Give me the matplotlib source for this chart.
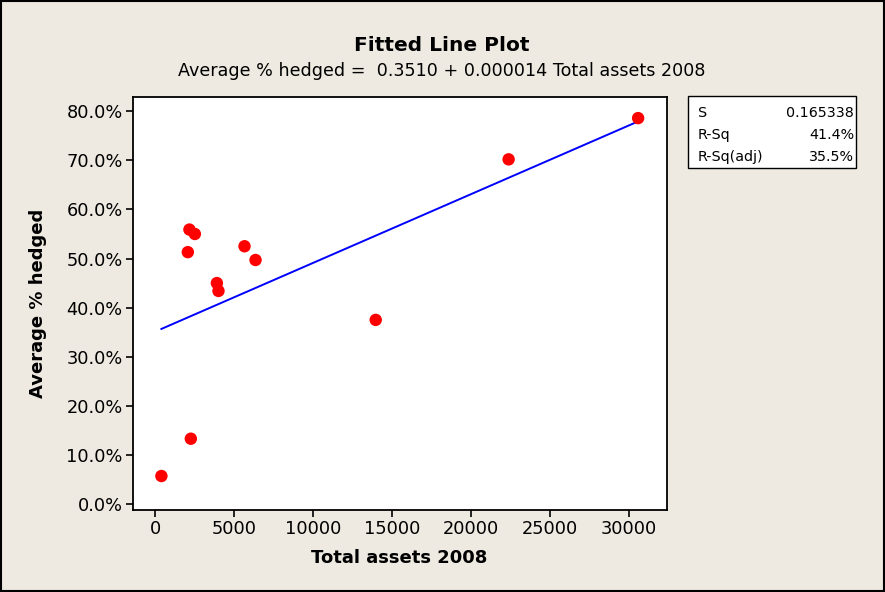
import numpy as np
import matplotlib
matplotlib.use('Agg')
from matplotlib import pyplot as plt
from matplotlib.ticker import FuncFormatter
from matplotlib.patches import Rectangle

# data
total_assets = [400, 2074, 2175, 2264, 2518, 3913, 4015, 5664, 6361, 13973, 22389, 30590]
avg_hedged = [0.057, 0.513, 0.559, 0.133, 0.550, 0.450, 0.434, 0.525, 0.497, 0.375, 0.702, 0.786]
intercept = 0.3510
slope = 0.000014
stat_names = ['S', 'R-Sq', 'R-Sq(adj)']
stat_values = ['0.165338', '41.4%', '35.5%']
x_ticks = [0, 5000, 10000, 15000, 20000, 25000, 30000]
y_ticks = [0.0, 0.1, 0.2, 0.3, 0.4, 0.5, 0.6, 0.7, 0.8]

bg = '#EEEAE1'
plt.rcParams['font.family'] = ['DejaVu Sans']

fig = plt.figure(figsize=(8.85, 5.92), dpi=100, facecolor=bg)
ax = fig.add_axes([132.5/885, 1-510/592, (666.7-132.5)/885, (510-97)/592])
ax.set_facecolor('white')

xs = np.array(sorted(total_assets))
ax.plot(xs, intercept + slope*xs, color='#0000FF', lw=1.4, zorder=2)
ax.scatter(total_assets, avg_hedged, s=80, color='#FF0000', edgecolors='none', zorder=3)

ax.set_xlim(-1430, 32400)
ax.set_ylim(-0.0122, 0.829)
ax.set_xticks(x_ticks)
ax.set_yticks(y_ticks)
ax.yaxis.set_major_formatter(FuncFormatter(lambda v, p: '%.1f%%' % (v*100)))
ax.tick_params(direction='out', length=5, width=1.2, labelsize=12.8, pad=2, colors='black')
for s in ax.spines.values():
    s.set_linewidth(1.3)

ax.set_xlabel('Total assets 2008', fontsize=13, fontweight='bold', labelpad=8)
ax.set_ylabel('Average % hedged', fontsize=13, fontweight='bold', labelpad=14)

fig.text(442/885, 1-45.5/592, 'Fitted Line Plot', ha='center', va='center', fontsize=14.5, fontweight='bold')
fig.text(442/885, 1-71/592, 'Average % hedged =  0.3510 + 0.000014 Total assets 2008',
         ha='center', va='center', fontsize=12.6)

# stats box
fig.patches.append(Rectangle((688.3/885, 1-168.3/592), (855.7-688.3)/885, (168.3-95.7)/592,
                             transform=fig.transFigure, facecolor='white', edgecolor='black', lw=1.0))
for i, (n, v) in enumerate(zip(stat_names, stat_values)):
    y = 1 - (112.7 + 22*i)/592
    fig.text(698/885, y, n, ha='left', va='center', fontsize=10.3)
    fig.text(854/885, y, v, ha='right', va='center', fontsize=10.3)

# outer border
fig.patches.append(Rectangle((0.6/885, 0.6/592), 883/885, 590/592, transform=fig.transFigure,
                             facecolor='none', edgecolor='black', lw=1.5))

fig.savefig('out.png', dpi=100, facecolor=bg)
